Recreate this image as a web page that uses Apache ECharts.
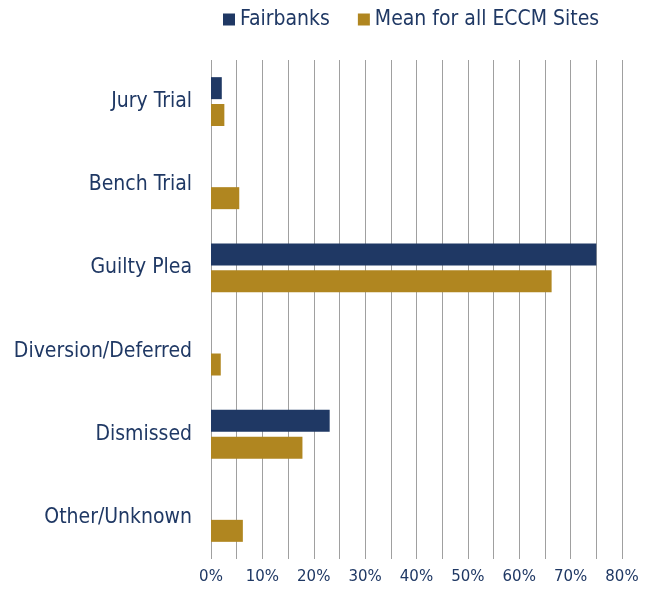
<!DOCTYPE html>
<html>
<head>
<meta charset="utf-8">
<script src="https://cdn.jsdelivr.net/npm/echarts@6/dist/echarts.min.js"></script>
<style>
  html, body { margin: 0; padding: 0; background: #fff; }
  #chart { width: 648px; height: 590px; }
</style>
</head>
<body>
<div id="chart"></div>
<script>
// categories, top to bottom
var categories = ['Jury Trial', 'Bench Trial', 'Guilty Plea', 'Diversion/Deferred', 'Dismissed', 'Other/Unknown'];
// percent of cases
var fairbanks = [2.1, 0, 75.0, 0, 23.1, 0];
var eccmMean = [2.6, 5.5, 66.3, 1.9, 17.8, 6.2];

var navy = '#1F3864';
var gold = '#B08620';
var textColor = '#1F3864';
var font = '"DejaVu Sans Condensed", "DejaVu Sans", sans-serif';

var myChart = echarts.init(document.getElementById('chart'));

var option = {
    animation: false,
    legend: {
        top: 4,
        left: 218,
        itemWidth: 12,
        itemHeight: 12,
        itemGap: 28,
        icon: 'rect',
        textStyle: { color: textColor, fontSize: 21, fontFamily: font },
        data: ['Fairbanks', 'Mean for all ECCM Sites']
    },
    grid: {
        left: 211,
        right: 26,
        top: 60,
        bottom: 31,
        containLabel: false
    },
    xAxis: {
        type: 'value',
        min: 0,
        max: 80,
        interval: 5,
        axisLine: { show: false },
        axisTick: { show: false },
        splitLine: { show: true, lineStyle: { color: '#a0a0a0', width: 1 } },
        axisLabel: {
            color: textColor,
            fontSize: 15,
            fontFamily: 'DejaVu Sans',
            margin: 11,
            formatter: function (v) {
                return v % 10 === 0 ? v + '%' : '';
            }
        }
    },
    yAxis: {
        type: 'category',
        inverse: true,
        data: categories,
        axisLine: { show: false },
        axisTick: { show: false },
        axisLabel: { color: textColor, fontSize: 21, fontFamily: font, margin: 19 }
    },
    series: [
        {
            name: 'Fairbanks',
            type: 'bar',
            data: fairbanks,
            barWidth: 22,
            barGap: '22%',
            itemStyle: { color: navy }
        },
        {
            name: 'Mean for all ECCM Sites',
            type: 'bar',
            data: eccmMean,
            barWidth: 22,
            itemStyle: { color: gold }
        }
    ]
};

myChart.setOption(option);
</script>
</body>
</html>
